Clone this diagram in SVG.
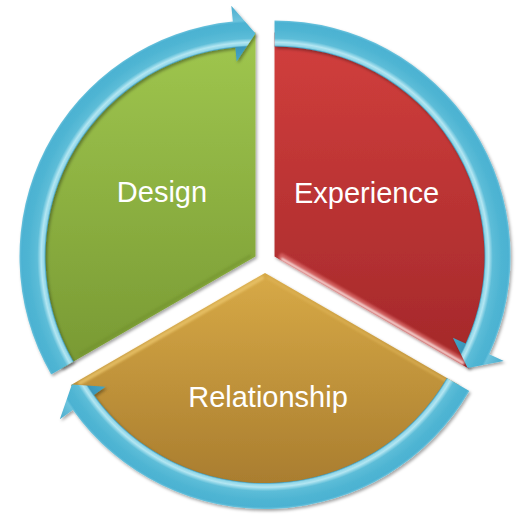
<svg xmlns="http://www.w3.org/2000/svg" width="522" height="515" viewBox="0 0 522 515">
  <defs>
    <linearGradient id="gGreen" x1="0" y1="30" x2="0" y2="370" gradientUnits="userSpaceOnUse">
      <stop offset="0" stop-color="#a0c74f"/>
      <stop offset="1" stop-color="#789933"/>
    </linearGradient>
    <linearGradient id="gRed" x1="0" y1="30" x2="0" y2="370" gradientUnits="userSpaceOnUse">
      <stop offset="0" stop-color="#d23f3d"/>
      <stop offset="1" stop-color="#a3282a"/>
    </linearGradient>
    <linearGradient id="gGold" x1="0" y1="270" x2="0" y2="500" gradientUnits="userSpaceOnUse">
      <stop offset="0" stop-color="#d8aa47"/>
      <stop offset="1" stop-color="#a67a2d"/>
    </linearGradient>
    <!-- tubular shading for the ring arrows, centred on each sector's vertex -->
    <radialGradient id="ringG" cx="255.47" cy="256.5" r="252" gradientUnits="userSpaceOnUse">
      <stop offset="0.77" stop-color="#45a8c9"/>
      <stop offset="0.833" stop-color="#3a97ba"/>
      <stop offset="0.839" stop-color="#8fd6e8"/>
      <stop offset="0.85" stop-color="#b3e6f2"/>
      <stop offset="0.866" stop-color="#5dbdd8"/>
      <stop offset="0.9" stop-color="#4fb5d3"/>
      <stop offset="0.928" stop-color="#4cb2d2"/>
      <stop offset="0.937" stop-color="#6cc3dd"/>
      <stop offset="1" stop-color="#4aaccd"/>
    </radialGradient>
    <radialGradient id="ringR" href="#ringG" cx="274.53" cy="256.5"/>
    <radialGradient id="ringY" href="#ringG" cx="265" cy="273"/>
    <filter id="shadow" x="-10%" y="-10%" width="120%" height="120%">
      <feDropShadow dx="1.5" dy="2" stdDeviation="1.6" flood-color="#000" flood-opacity="0.35"/>
    </filter>
    <filter id="soft" x="-10%" y="-10%" width="120%" height="120%">
      <feGaussianBlur stdDeviation="1.2"/>
    </filter>
  </defs>
  <style>
    .label { font-family: "Liberation Sans", Arial, sans-serif; font-size: 29px; fill: #ffffff; text-anchor: middle; }
    .sector { filter: url(#shadow); }
    .arrow { filter: url(#shadow); }
    .hl { fill: none; stroke-linecap: round; filter: url(#soft); }
  </style>

  <!-- Design (green, 8 o'clock to 12 o'clock) -->
  <g id="design">
    <path class="sector" d="M255.47 256.5 L61.48 368.5 A224 224 0 0 1 255.47 32.5 Z" fill="url(#gGreen)"/>
    <path class="hl" d="M253 40 L253 250" stroke="#eef6b8" stroke-width="2.5" opacity="0.85"/>
    <path class="hl" d="M250 256 L80 354" stroke="#6f8e2c" stroke-width="3" opacity="0.5"/>
    <text class="label" x="162" y="202">Design</text>
  </g>

  <!-- Experience (red, 12 o'clock to 4 o'clock) -->
  <g id="experience">
    <path class="sector" d="M274.53 256.5 L274.53 32.5 A224 224 0 0 1 468.52 368.5 Z" fill="url(#gRed)"/>
    <path class="hl" d="M277 45 L277 250" stroke="#e25a57" stroke-width="3" opacity="0.7"/>
    <path class="hl" d="M282 257 L462 361" stroke="#e57a78" stroke-width="7" opacity="0.6"/>
    <path class="hl" d="M282 259 L463 363" stroke="#fff0ee" stroke-width="2.5" opacity="0.95"/>
    <text class="label" x="366.5" y="203">Experience</text>
  </g>

  <!-- Relationship (gold, 4 o'clock to 8 o'clock) -->
  <g id="relationship">
    <path class="sector" d="M265 273 L458.99 385 A224 224 0 0 1 71.01 385 Z" fill="url(#gGold)"/>
    <path class="hl" d="M262 278 L80 383" stroke="#eac46a" stroke-width="4" opacity="0.8"/>
    <path class="hl" d="M268 278 L450 383" stroke="#e0b65a" stroke-width="3" opacity="0.6"/>
    <text class="label" x="268" y="407">Relationship</text>
  </g>

  <!-- circular arrows linking the three stages clockwise -->
  <g id="connectors">
    <path class="arrow" fill="url(#ringG)" d="M51.09 374.5 A236 236 0 0 1 232.85 21.59 L231.32 5.66 L255.47 33.5 L236.68 61.40 L235.34 47.47 A210 210 0 0 0 73.60 361.5 Z"/>
    <path class="arrow" fill="url(#ringR)" d="M274.53 20.5 A236 236 0 0 1 489.28 354.37 L503.84 361.00 L467.65 368.0 L452.88 337.78 L465.62 343.58 A210 210 0 0 0 274.53 46.5 Z"/>
    <path class="arrow" fill="url(#ringY)" d="M469.38 391 A236 236 0 0 1 72.87 410.05 L59.84 419.34 L71.88 384.5 L105.43 386.82 L94.03 394.95 A210 210 0 0 0 446.87 378 Z"/>
  </g>
</svg>
